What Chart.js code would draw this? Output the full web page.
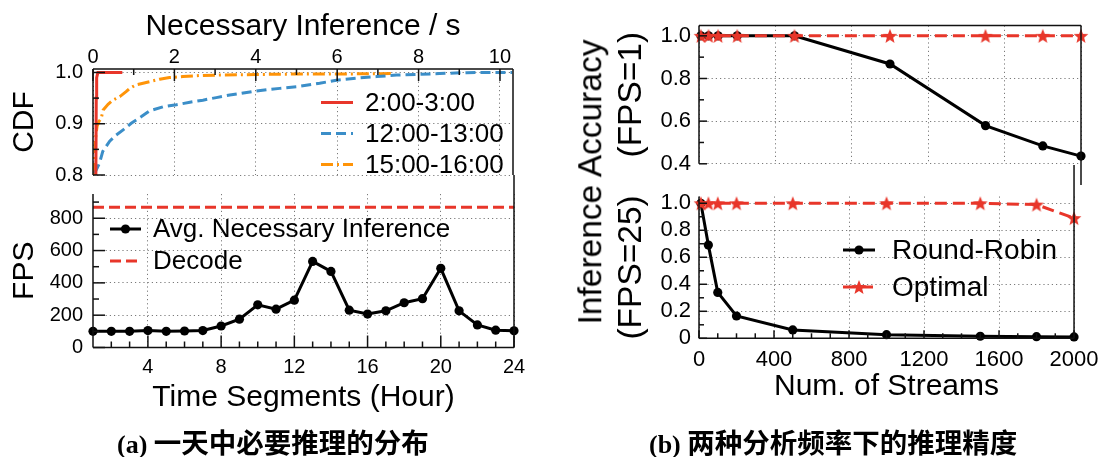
<!DOCTYPE html>
<html><head><meta charset="utf-8">
<script src="https://cdn.jsdelivr.net/npm/chart.js@4.4.0/dist/chart.umd.min.js"></script>
<style>
html,body{margin:0;padding:0;background:#fff;}
body{width:1107px;height:457px;overflow:hidden;position:relative;font-family:"Liberation Sans",Arial,sans-serif;}
.cv{position:absolute;display:block;}
.rot{position:absolute;white-space:nowrap;font-size:33.5px;line-height:1;color:#000;transform:translate(-50%,-50%) rotate(-90deg);}
.cap{position:absolute;white-space:nowrap;font-size:26px;line-height:28px;font-weight:bold;color:#000;font-family:"Liberation Serif","Noto Sans CJK SC",serif;}
.cap .zh{font-family:"Noto Sans CJK SC",sans-serif;font-weight:700;font-size:27.5px;}
</style></head>
<body>
<canvas id="a1" class="cv" width="540" height="200" style="left:0;top:0"></canvas>
<canvas id="a2" class="cv" width="540" height="250" style="left:0;top:170px"></canvas>
<canvas id="b1" class="cv" width="537" height="185" style="left:570px;top:0"></canvas>
<canvas id="b2" class="cv" width="537" height="250" style="left:570px;top:165px"></canvas>
<div class="rot" style="left:590px;top:182px">Inference Accuracy</div>
<div class="cap" style="left:117px;top:427px">(a) <span class="zh">一天中必要推理的分布</span></div>
<div class="cap" style="left:649px;top:427px">(b) <span class="zh">两种分析频率下的推理精度</span></div>
<script>
// ---------------- data: panel (a) top, CDF of necessary inference interval ----------------
const cdfXTicks = [0, 2, 4, 6, 8, 10];
const cdfYTicks = [0.8, 0.9, 1.0];
const cdf0203X = [0.07, 0.08, 0.09, 0.12, 0.72];
const cdf0203Y = [0.8, 0.95, 0.99, 1.0, 1.0];
const cdf1213X = [0.04, 0.16, 0.24, 0.41, 0.57, 0.74, 0.94, 1.19, 1.39, 1.72, 2.05, 2.38, 2.7, 3.03, 3.36, 3.93, 4.34, 4.59, 5.0, 5.57, 5.98, 6.48, 6.97, 7.46, 7.95, 8.52, 9.18, 10.3];
const cdf1213Y = [0.803, 0.823, 0.846, 0.866, 0.878, 0.888, 0.901, 0.914, 0.925, 0.933, 0.937, 0.942, 0.946, 0.951, 0.956, 0.963, 0.967, 0.969, 0.972, 0.979, 0.985, 0.989, 0.992, 0.995, 0.996, 0.998, 0.9997, 1.0];
const cdf1516X = [0.02, 0.04, 0.06, 0.1, 0.15, 0.2, 0.25, 0.37, 0.49, 0.66, 0.82, 0.9, 1.06, 1.23, 1.39, 1.64, 1.88, 2.21, 2.62, 3.1, 4.0, 5.0, 6.0, 7.4];
const cdf1516Y = [0.8, 0.83, 0.87, 0.895, 0.905, 0.91, 0.927, 0.938, 0.946, 0.953, 0.963, 0.969, 0.976, 0.979, 0.982, 0.987, 0.99, 0.992, 0.994, 0.995, 0.996, 0.997, 0.997, 0.998];

// ---------------- data: panel (a) bottom, FPS per hour ----------------
const hours = [1, 2, 3, 4, 5, 6, 7, 8, 9, 10, 11, 12, 13, 14, 15, 16, 17, 18, 19, 20, 21, 22, 23, 24];
const avgNecessaryFps = [100, 100, 100, 105, 100, 102, 105, 133, 175, 264, 237, 293, 533, 471, 231, 207, 227, 277, 302, 490, 227, 140, 107, 103];
const decodeFps = [868, 868];
const decodeHours = [1, 24];
const hourTicks = [4, 8, 12, 16, 20, 24];
const fpsTicks = [0, 200, 400, 600, 800];

// ---------------- data: panel (b), accuracy vs number of streams ----------------
const streams = [10, 50, 100, 200, 500, 1000, 1500, 1800, 2000];
const rrAccFps1 = [1.0, 1.0, 1.0, 1.0, 1.0, 0.868, 0.579, 0.484, 0.436];
const optAccFps1 = [1.0, 1.0, 1.0, 1.0, 1.0, 1.0, 1.0, 1.0, 1.0];
const rrAccFps25 = [1.0, 0.69, 0.34, 0.165, 0.062, 0.027, 0.015, 0.012, 0.01];
const optAccFps25 = [1.0, 1.0, 1.0, 1.0, 1.0, 1.0, 1.0, 0.99, 0.89];
const streamTicks = [0, 400, 800, 1200, 1600, 2000];
const accTicksFps1 = [0.4, 0.6, 0.8, 1.0];
const accTicksFps25 = [0, 0.2, 0.4, 0.6, 0.8, 1.0];

// tick-mark positions (inward gnuplot style)
const cdfXMajor = [0, 2, 4, 6, 8, 10], cdfXMinor = [1, 3, 5, 7, 9];
const cdfYMajor = [0.8, 0.9, 1.0], cdfYMinor = [0.85, 0.95];
const hourMajor = [4, 8, 12, 16, 20, 24], hourMinor = [2, 3, 5, 6, 7, 9, 10, 11, 13, 14, 15, 17, 18, 19, 21, 22, 23];
const fpsMajor = [0, 200, 400, 600, 800], fpsMinor = [100, 300, 500, 700, 900];
const streamMajor = [0, 400, 800, 1200, 1600, 2000], streamMinor = [100, 200, 300, 500, 600, 700, 900, 1000, 1100, 1300, 1400, 1500, 1700, 1800, 1900];
const acc1Major = [0.4, 0.6, 0.8, 1.0], acc1Minor = [0.5, 0.7, 0.9];
const acc25Major = [0, 0.2, 0.4, 0.6, 0.8, 1.0], acc25Minor = [0.1, 0.3, 0.5, 0.7, 0.9];

// ---------------- helpers ----------------
const zip = (xs, ys) => xs.map((x, i) => ({x: x, y: ys[i]}));
const RED = '#e8362a', BLUE = '#3b8ec8', ORANGE = '#ff9408', BLACK = '#000';
const FONT = "'Liberation Sans', Arial, sans-serif";
Chart.defaults.font.family = FONT;
Chart.defaults.color = '#000';

function starImage(size, color) {
  const c = document.createElement('canvas');
  c.width = c.height = size;
  const g = c.getContext('2d');
  const cx = size / 2, cy = size / 2 + 0.7, R = size / 2 - 0.3, r = R * 0.43;
  g.beginPath();
  for (let i = 0; i < 10; i++) {
    const ang = -Math.PI / 2 + i * Math.PI / 5;
    const rad = i % 2 === 0 ? R : r;
    g.lineTo(cx + rad * Math.cos(ang), cy + rad * Math.sin(ang));
  }
  g.closePath(); g.fillStyle = color; g.fill();
  return c;
}
const STAR = starImage(16, RED);

const framePlugin = {
  id: 'frame',
  afterDatasetsDraw(chart, args, o) {
    if (!o || !o.sides) return;
    const {ctx, chartArea: a, scales} = chart;
    ctx.save();
    ctx.strokeStyle = '#111'; ctx.lineWidth = 1.5; ctx.setLineDash([]);
    (o.ticks || []).forEach(t => {
      const s = scales[t.axis];
      t.values.forEach(v => {
        const p = s.getPixelForValue(v);
        ctx.beginPath();
        if (t.side === 'top') { ctx.moveTo(p, a.top); ctx.lineTo(p, a.top + t.len); }
        if (t.side === 'bottom') { ctx.moveTo(p, a.bottom); ctx.lineTo(p, a.bottom - t.len); }
        if (t.side === 'left') { ctx.moveTo(a.left, p); ctx.lineTo(a.left + t.len, p); }
        ctx.stroke();
      });
    });
    ctx.beginPath();
    if (o.sides.top) { ctx.moveTo(a.left, a.top); ctx.lineTo(a.right, a.top); }
    if (o.sides.bottom) { ctx.moveTo(a.left, a.bottom); ctx.lineTo(a.right, a.bottom); }
    if (o.sides.left) { ctx.moveTo(a.left, a.top); ctx.lineTo(a.left, a.bottom); }
    if (o.sides.right) {
      const top = (o.rightFrom !== undefined) ? o.rightFrom : a.top;
      const bot = (o.rightTo !== undefined) ? o.rightTo : a.bottom;
      ctx.moveTo(a.right, top); ctx.lineTo(a.right, bot);
    }
    ctx.stroke();
    ctx.restore();
  }
};

const legendPlugin = {
  id: 'inlegend',
  afterDraw(chart, args, o) {
    if (!o || !o.items) return;
    const ctx = chart.ctx;
    ctx.save();
    o.items.forEach((idx, k) => {
      const ds = chart.data.datasets[idx];
      const y = o.y0 + k * o.dy;
      ctx.strokeStyle = ds.borderColor; ctx.lineWidth = ds.borderWidth;
      ctx.setLineDash(ds.borderDash || []);
      ctx.beginPath(); ctx.moveTo(o.x0, y); ctx.lineTo(o.x1, y); ctx.stroke();
      ctx.setLineDash([]);
      const mx = (o.x0 + o.x1) / 2;
      if (ds.pointStyle && typeof ds.pointStyle === 'object') {
        ctx.drawImage(ds.pointStyle, mx - ds.pointStyle.width / 2, y - ds.pointStyle.height / 2);
      } else if (ds.pointRadius > 0) {
        ctx.fillStyle = ds.pointBackgroundColor;
        ctx.beginPath(); ctx.arc(mx, y, ds.pointRadius, 0, Math.PI * 2); ctx.fill();
      }
      ctx.fillStyle = '#000';
      ctx.font = o.size + 'px ' + FONT;
      ctx.textAlign = 'left'; ctx.textBaseline = 'middle';
      ctx.fillText(ds.label, o.tx, y + 1);
    });
    ctx.restore();
  }
};
Chart.register(framePlugin, legendPlugin);

const gridOpts = {color: '#7a7a7a', lineWidth: 1, drawTicks: false};
const dotted = {display: false, dash: [1.2, 3]};
const setTicks = arr => s => { s.ticks = arr.map(v => ({value: v})); };
const base = {responsive: false, maintainAspectRatio: false, animation: false, events: []};
const plain = v => String(v);

// ---------------- (a) top: CDF ----------------
new Chart(document.getElementById('a1'), {
  type: 'line',
  data: {datasets: [
    {label: '2:00-3:00', data: zip(cdf0203X, cdf0203Y), borderColor: RED, borderWidth: 3, borderDash: [], pointRadius: 0, tension: 0},
    {label: '12:00-13:00', data: zip(cdf1213X, cdf1213Y), borderColor: BLUE, borderWidth: 3, borderDash: [10, 5], pointRadius: 0, tension: 0},
    {label: '15:00-16:00', data: zip(cdf1516X, cdf1516Y), borderColor: ORANGE, borderWidth: 3, borderDash: [12, 4, 2, 4], pointRadius: 0, tension: 0}
  ]},
  options: Object.assign({}, base, {
    layout: {padding: {left: 0, top: 0, right: 27, bottom: 25}},
    plugins: {
      legend: {display: false}, tooltip: {enabled: false},
      frame: {sides: {top: true, left: true, right: true},
        ticks: [{axis: 'x', side: 'top', values: cdfXMajor, len: 12}, {axis: 'x', side: 'top', values: cdfXMinor, len: 6},
                {axis: 'y', side: 'left', values: cdfYMajor, len: 12}, {axis: 'y', side: 'left', values: cdfYMinor, len: 6}]},
      inlegend: {items: [0, 1, 2], x0: 321, x1: 353, tx: 365, y0: 102.5, dy: 31, size: 26}
    },
    scales: {
      x: {type: 'linear', position: 'top', min: 0, max: 10.32, afterBuildTicks: setTicks(cdfXTicks), afterFit: s => { s.height = 69; },
          ticks: {font: {size: 20}, padding: 0, maxRotation: 0, autoSkip: false, callback: plain}, grid: gridOpts, border: dotted,
          title: {display: true, text: 'Necessary Inference / s', font: {size: 30}, padding: {top: 9, bottom: 0}}},
      y: {type: 'linear', min: 0.8, max: 1.0068, afterBuildTicks: setTicks(cdfYTicks), afterFit: s => { s.width = 93; },
          ticks: {font: {size: 20}, padding: 10, autoSkip: false, callback: v => Number(v).toFixed(1)}, grid: gridOpts, border: dotted,
          title: {display: true, text: 'CDF', font: {size: 30}, padding: {top: 7, bottom: 0}}}
    }
  })
});

// ---------------- (a) bottom: FPS ----------------
new Chart(document.getElementById('a2'), {
  type: 'line',
  data: {datasets: [
    {label: 'Avg. Necessary Inference', data: zip(hours, avgNecessaryFps), borderColor: BLACK, borderWidth: 3, pointRadius: 4.6,
     pointBackgroundColor: BLACK, pointBorderColor: BLACK, pointBorderWidth: 0, tension: 0, clip: false},
    {label: 'Decode', data: zip(decodeHours, decodeFps), borderColor: RED, borderWidth: 3, borderDash: [11, 5], pointRadius: 0, tension: 0}
  ]},
  options: Object.assign({}, base, {
    layout: {padding: {left: 0, top: 24, right: 26, bottom: 4.5}},
    plugins: {
      legend: {display: false}, tooltip: {enabled: false},
      frame: {sides: {bottom: true, left: true, right: true}, rightFrom: 5,
        ticks: [{axis: 'x', side: 'bottom', values: hourMajor, len: 12}, {axis: 'x', side: 'bottom', values: hourMinor, len: 6},
                {axis: 'y', side: 'left', values: fpsMajor, len: 12}, {axis: 'y', side: 'left', values: fpsMinor, len: 6}]},
      inlegend: {items: [0, 1], x0: 110, x1: 141, tx: 153, y0: 59, dy: 32, size: 26}
    },
    scales: {
      x: {type: 'linear', position: 'bottom', min: 1, max: 24, afterBuildTicks: setTicks(hourTicks), afterFit: s => { s.height = 68; },
          ticks: {font: {size: 20}, padding: 7.5, maxRotation: 0, autoSkip: false, callback: plain}, grid: gridOpts, border: dotted,
          title: {display: true, text: 'Time Segments (Hour)', font: {size: 30}, padding: {top: 0, bottom: 0}}},
      y: {type: 'linear', min: 0, max: 950, afterBuildTicks: setTicks(fpsTicks), afterFit: s => { s.width = 93; },
          ticks: {font: {size: 20}, padding: 10, autoSkip: false, callback: plain}, grid: gridOpts, border: dotted,
          title: {display: true, text: 'FPS', font: {size: 30}, padding: {top: 6.5, bottom: 0}}}
    }
  })
});

// ---------------- (b) top: FPS=1 ----------------
new Chart(document.getElementById('b1'), {
  type: 'line',
  data: {datasets: [
    {label: 'Round-Robin', data: zip(streams, rrAccFps1), borderColor: BLACK, borderWidth: 3, pointRadius: 4.6, order: 1,
     pointBackgroundColor: BLACK, pointBorderColor: BLACK, pointBorderWidth: 0, tension: 0, clip: false},
    {label: 'Optimal', data: zip(streams, optAccFps1), borderColor: RED, borderWidth: 3, borderDash: [12, 6], pointStyle: STAR, pointRadius: 7, order: 0, tension: 0, clip: false}
  ]},
  options: Object.assign({}, base, {
    layout: {padding: {left: 0, top: 25.6, right: 26, bottom: 17.5}},
    plugins: {
      legend: {display: false}, tooltip: {enabled: false},
      frame: {sides: {top: true, left: true, right: true}, rightTo: 185,
        ticks: [{axis: 'y', side: 'left', values: acc1Major, len: 8}, {axis: 'y', side: 'left', values: acc1Minor, len: 5}]}
    },
    scales: {
      x: {type: 'linear', display: true, min: 0, max: 2000, afterBuildTicks: setTicks(streamTicks), afterFit: s => { s.height = 0; },
          ticks: {display: false}, grid: gridOpts, border: dotted},
      y: {type: 'linear', min: 0.4, max: 1.048, afterBuildTicks: setTicks(accTicksFps1), afterFit: s => { s.width = 129; },
          ticks: {font: {size: 22}, padding: 8, autoSkip: false, callback: v => Number(v).toFixed(1)}, grid: gridOpts, border: dotted,
          title: {display: true, text: '(FPS=1)', font: {size: 33.5}, padding: {top: 42, bottom: 0}}}
    }
  })
});

// ---------------- (b) bottom: FPS=25 ----------------
new Chart(document.getElementById('b2'), {
  type: 'line',
  data: {datasets: [
    {label: 'Round-Robin', data: zip(streams, rrAccFps25), borderColor: BLACK, borderWidth: 3, pointRadius: 4.6, order: 1,
     pointBackgroundColor: BLACK, pointBorderColor: BLACK, pointBorderWidth: 0, tension: 0, clip: false},
    {label: 'Optimal', data: zip(streams, optAccFps25), borderColor: RED, borderWidth: 3, borderDash: [12, 6], pointStyle: STAR, pointRadius: 7, order: 0, tension: 0, clip: false}
  ]},
  options: Object.assign({}, base, {
    layout: {padding: {left: 0, top: 31.5, right: 26, bottom: 10.6}},
    plugins: {
      legend: {display: false}, tooltip: {enabled: false},
      frame: {sides: {bottom: true, left: true, right: true}, rightFrom: 0,
        ticks: [{axis: 'x', side: 'bottom', values: streamMajor, len: 8}, {axis: 'x', side: 'bottom', values: streamMinor, len: 5},
                {axis: 'y', side: 'left', values: acc25Major, len: 8}, {axis: 'y', side: 'left', values: acc25Minor, len: 5}]},
      inlegend: {items: [0, 1], x0: 273, x1: 305, tx: 322, y0: 85, dy: 37, size: 28}
    },
    scales: {
      x: {type: 'linear', position: 'bottom', min: 0, max: 2000, afterBuildTicks: setTicks(streamTicks), afterFit: s => { s.height = 66.1; },
          ticks: {font: {size: 22}, padding: 8.5, maxRotation: 0, autoSkip: false, callback: plain}, grid: gridOpts, border: dotted,
          title: {display: true, text: 'Num. of Streams', font: {size: 30}, padding: {top: 0, bottom: 0}}},
      y: {type: 'linear', min: 0, max: 1.05, afterBuildTicks: setTicks(accTicksFps25), afterFit: s => { s.width = 129; },
          ticks: {font: {size: 22}, padding: 8, autoSkip: false, callback: v => (v === 0 ? '0' : Number(v).toFixed(1))}, grid: gridOpts, border: dotted,
          title: {display: true, text: '(FPS=25)', font: {size: 33.5}, padding: {top: 42, bottom: 0}}}
    }
  })
});
</script>
</body></html>
